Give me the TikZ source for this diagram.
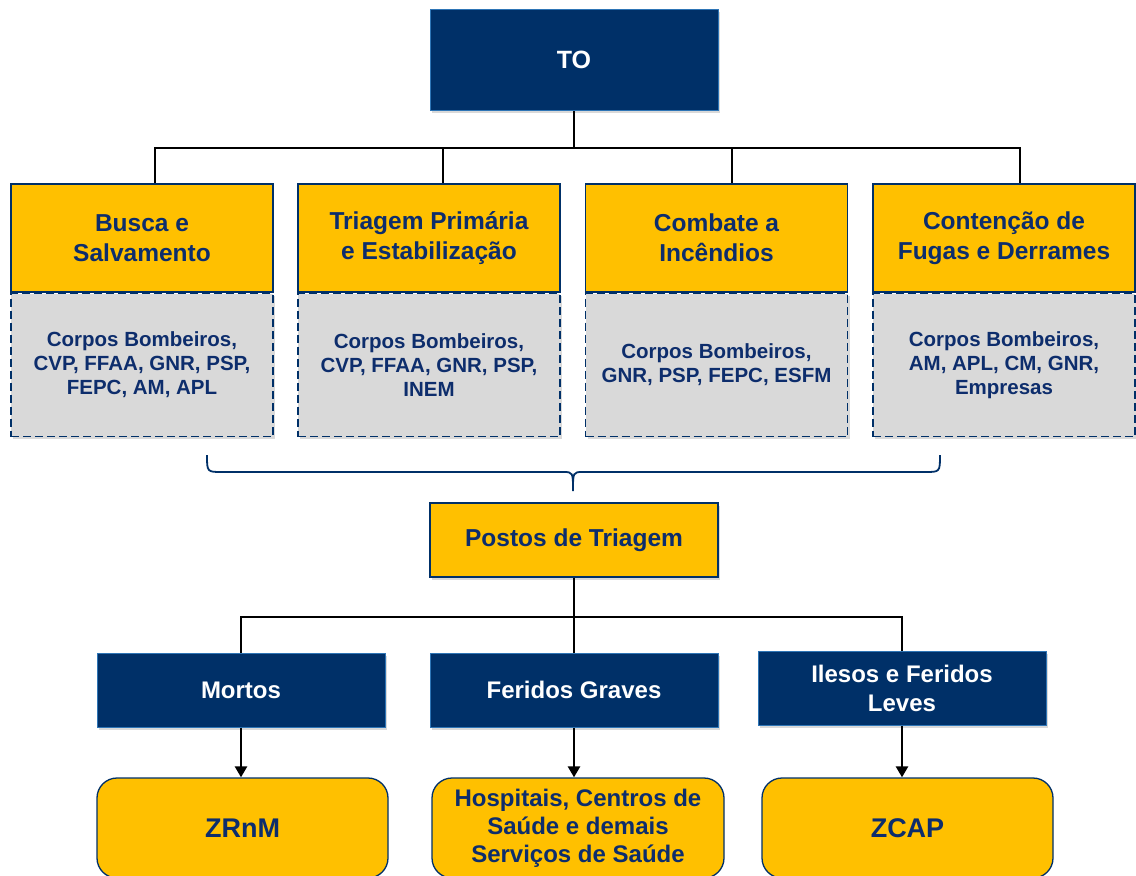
\documentclass[tikz,border=0pt]{standalone}
\usepackage{fontspec}
\setmainfont{Liberation Sans}
\usepackage{xcolor}
\usetikzlibrary{arrows.meta, positioning, shadows}

\definecolor{navy}{HTML}{003068}
\definecolor{navytext}{HTML}{0D2D6C}
\definecolor{edgeblue}{HTML}{2E75B6}
\definecolor{gold}{HTML}{FFC000}
\definecolor{lightgray}{HTML}{D9D9D9}

\tikzset{
  softshadow/.style={drop shadow={opacity=0.3, shadow xshift=2pt, shadow yshift=-2.5pt}},
  rootbox/.style={rectangle, draw=edgeblue, line width=1pt, fill=navy, text=white,
    minimum width=288pt, minimum height=101pt, align=center, softshadow,
    font=\fontsize{25}{30}\selectfont\bfseries},
  taskbox/.style={rectangle, draw=navy, line width=1.3pt, fill=gold, text=navytext,
    minimum width=262pt, minimum height=108pt, align=center, inner sep=0pt,
    font=\fontsize{24.5}{30}\selectfont\bfseries},
  agentbox/.style={rectangle, draw=navy, line width=1.8pt, dash pattern=on 8pt off 4pt,
    fill=lightgray, text=navytext, minimum width=262pt, minimum height=143pt,
    align=center, inner sep=0pt, softshadow,
    font=\fontsize{20.5}{24}\selectfont\bfseries},
  postbox/.style={rectangle, draw=navy, line width=1.3pt, fill=gold, text=navytext,
    minimum width=288pt, minimum height=74pt, align=center, softshadow,
    font=\fontsize{24.5}{30}\selectfont\bfseries},
  groupbox/.style={rectangle, draw=edgeblue, line width=1pt, fill=navy, text=white,
    minimum width=288pt, minimum height=74pt, align=center, softshadow,
    font=\fontsize{24}{29}\selectfont\bfseries},
  destbox/.style={rectangle, rounded corners=20pt, draw=navy, line width=1.3pt,
    fill=gold, text=navytext, minimum height=100pt, align=center,
    font=\fontsize{24}{28}\selectfont\bfseries},
  bigtext/.style={font=\fontsize{27}{30}\selectfont\bfseries},
  link/.style={line width=2.6pt, black},
  arrowlink/.style={link, -{Triangle[width=12pt, length=11pt]}},
}

\begin{document}
\begin{tikzpicture}[x=1pt, y=-1pt]
  \useasboundingbox (0,0) rectangle (1136,876);
  \clip (0,0) rectangle (1136,876);

  % top level
  \node[rootbox] (to) at (574,60) {TO};

  % task boxes and agents
  \node[taskbox] (busca) at (142,238) {Busca e\\Salvamento};
  \node[taskbox] (triagem) at (429,238) {Triagem Primária\\e Estabilização};
  \node[taskbox] (combate) at (716.5,238) {Combate a\\Incêndios};
  \node[taskbox] (contencao) at (1004,238) {Contenção de\\Fugas e Derrames};

  \node[agentbox, below=0pt of busca] (buscaA) {Corpos Bombeiros,\\CVP, FFAA, GNR, PSP,\\FEPC, AM, APL};
  \node[agentbox, below=0pt of triagem] (triagemA) {Corpos Bombeiros,\\CVP, FFAA, GNR, PSP,\\INEM};
  \node[agentbox, below=0pt of combate] (combateA) {Corpos Bombeiros,\\GNR, PSP, FEPC, ESFM};
  \node[agentbox, below=0pt of contencao] (contencaoA) {Corpos Bombeiros,\\AM, APL, CM, GNR,\\Empresas};
  % redraw yellow boxes' lower edge over the agents
  \foreach \n in {busca, triagem, combate, contencao}
    \draw[navy, line width=1.3pt] (\n.south west) -- (\n.south east);

  \coordinate (bus) at (574,148);
  \draw[link] (to.south) -- (bus);
  \foreach \n/\dx in {busca/13, triagem/14, combate/15.5, contencao/16}
    \draw[link] (bus) -| ([xshift=\dx pt]\n.north);

  % brace gathering the tasks
  \coordinate (braceL) at (207,455);
  \coordinate (braceR) at (940,455);
  \coordinate (braceTip) at (573,491);
  \draw[navy, line width=1.8pt]
    (braceL) .. controls (207,472) .. (222,472) -- (563,472)
    .. controls (573,472) .. (braceTip)
    .. controls (573,472) .. (583,472) -- (925,472)
    .. controls (940,472) .. (braceR);

  % triage posts
  \node[postbox] (postos) at (574,540) {Postos de Triagem};

  \node[groupbox] (mortos) at (241,690) {Mortos};
  \node[groupbox] (graves) at (574,690) {Feridos Graves};
  \node[groupbox] (ilesos) at (902,688) {Ilesos e Feridos\\Leves};

  \coordinate (bus2) at (574,617);
  \draw[link] (postos.south) -- (bus2);
  \draw[link] (bus2) -| (mortos.north);
  \draw[link] (bus2) -- (graves.north);
  \draw[link] (bus2) -| (ilesos.north);

  % destinations
  \node[destbox, bigtext, minimum width=291pt] (zrnm) at (242.5,828) {ZRnM};
  \node[destbox, minimum width=292pt] (saude) at (578,828) {Hospitais, Centros de\\Saúde e demais\\Serviços de Saúde};
  \node[destbox, bigtext, minimum width=291pt] (zcap) at (907.5,828) {ZCAP};

  \draw[arrowlink] (mortos.south) -- (mortos.south |- zrnm.north);
  \draw[arrowlink] (graves.south) -- (graves.south |- saude.north);
  \draw[arrowlink] (ilesos.south) -- (ilesos.south |- zcap.north);
\end{tikzpicture}
\end{document}
